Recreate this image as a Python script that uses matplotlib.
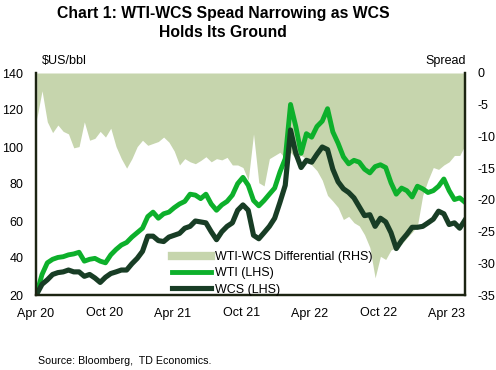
import pandas as pd
import matplotlib
matplotlib.use("Agg")
import matplotlib.pyplot as plt
from matplotlib.lines import Line2D

plt.rcParams['font.family'] = ['Liberation Sans', 'DejaVu Sans']
plt.rcParams['axes.unicode_minus'] = False

# roughly bi-weekly observations, Apr 2020 - May 2023
dates = pd.date_range('2020-04-03', '2023-05-20', periods=82)

wti = [21.0, 31.1, 37.4, 39.3, 40.3, 40.7, 41.7, 42.2, 43.1, 38.3,
       39.3, 39.8, 38.3, 37.4, 41.7, 44.6, 47.0, 48.4, 51.3, 53.7,
       56.1, 62.4, 64.8, 61.5, 63.9, 64.8, 67.2, 69.2, 70.6, 74.5,
       74.0, 72.1, 74.5, 69.2, 65.8, 68.7, 70.6, 74.0, 80.2, 83.6,
       79.3, 71.1, 68.2, 71.1, 74.5, 77.8, 86.5, 93.7, 123.0, 111.1,
       96.6, 107.2, 105.3, 111.1, 114.0, 120.7, 108.2, 102.0, 94.7, 90.9,
       92.8, 91.8, 88.0, 86.0, 89.4, 90.4, 88.9, 80.7, 74.5, 77.8,
       76.4, 73.0, 78.8, 77.4, 75.4, 76.4, 78.8, 82.7, 76.4, 71.6,
       72.5, 70.1]

wcs = [20.5, 25.8, 28.2, 31.1, 32.1, 32.5, 33.5, 32.5, 32.5, 30.1,
       31.1, 29.2, 26.8, 29.6, 31.6, 32.5, 33.5, 33.5, 36.9, 39.8,
       43.6, 51.8, 51.8, 49.4, 48.9, 51.3, 52.3, 53.3, 56.1, 57.1,
       60.0, 59.5, 59.0, 54.2, 49.9, 54.2, 57.1, 59.0, 65.8, 68.7,
       65.8, 52.3, 50.4, 53.7, 57.1, 61.5, 70.1, 79.3, 109.2, 96.6,
       88.9, 92.8, 91.8, 96.1, 100.0, 98.6, 88.0, 81.2, 77.4, 75.4,
       72.5, 67.7, 62.9, 63.4, 57.1, 61.5, 59.5, 53.7, 45.1, 49.4,
       52.8, 56.6, 56.6, 57.1, 59.0, 61.0, 65.3, 63.9, 58.1, 59.0,
       56.1, 60.5]

spread = [-7.2, -2.8, -7.7, -9.4, -8.2, -9.2, -9.6, -11.8, -11.6, -7.7,
          -10.6, -10.3, -9.2, -10.1, -8.7, -11.6, -13.5, -15.0, -13.5, -11.6,
          -10.6, -11.4, -11.1, -10.8, -10.1, -10.9, -12.3, -14.5, -13.5, -14.0,
          -14.3, -13.8, -13.2, -14.0, -13.5, -13.7, -13.3, -14.5, -14.5, -14.9,
          -16.9, -9.6, -17.3, -17.8, -13.5, -13.0, -12.5, -13.5, -12.5, -13.5,
          -13.0, -13.5, -14.5, -15.4, -16.9, -19.3, -20.2, -21.2, -23.1, -22.6,
          -23.6, -24.1, -25.5, -27.5, -32.3, -28.9, -29.4, -27.9, -27.5, -27.0,
          -26.0, -25.1, -24.1, -19.3, -16.9, -14.9, -15.2, -14.5, -14.0, -13.0,
          -13.0, -11.4]

tick_dates = pd.to_datetime(['2020-04-01', '2020-10-01', '2021-04-01', '2021-10-01',
                             '2022-04-01', '2022-10-01', '2023-04-01'])
tick_labels = ['Apr 20', 'Oct 20', 'Apr 21', 'Oct 21', 'Apr 22', 'Oct 22', 'Apr 23']

FILL = '#c6d5ad'
WTI_C = '#0db02b'
WCS_C = '#183d25'
AXC = '#1c2412'

fig = plt.figure(figsize=(4.96, 3.70), dpi=100)
ax = fig.add_axes([36/496, 1 - 295/370, (465 - 36)/496, (295 - 73)/370])
ax2 = ax.twinx()

# differential as area on the right axis, kept behind the price lines
ax2.fill_between(dates, 0, spread, color=FILL, lw=0)
ax2.set_ylim(-35, 0)
ax2.set_yticks(range(-35, 1, 5))
ax.set_zorder(ax2.get_zorder() + 1)
ax.patch.set_visible(False)

ax.plot(dates, wti, color=WTI_C, lw=3.5, solid_joinstyle='round')
ax.plot(dates, wcs, color=WCS_C, lw=3.7, solid_joinstyle='round')
ax.set_ylim(20, 140)
ax.set_yticks(range(20, 141, 20))
ax.set_xlim(pd.Timestamp('2020-04-01'), pd.Timestamp('2023-05-20'))
ax.set_xticks(tick_dates)
ax.set_xticklabels(tick_labels)

for a in (ax, ax2):
    a.spines['top'].set_visible(False)
    for s in ('left', 'right', 'bottom'):
        a.spines[s].set_color(AXC)
        a.spines[s].set_linewidth(1.6)
    a.tick_params(length=0, labelsize=9, colors='black')
ax.tick_params(axis='y', pad=9)
ax.tick_params(axis='x', pad=9)
ax2.tick_params(axis='y', pad=9)

fig.text(223/496, 1 - 23/370, 'Chart 1: WTI-WCS Spead Narrowing as WCS\nHolds Its Ground',
         ha='center', va='center', fontsize=11.3, fontweight='bold', linespacing=1.3)
fig.text(42/496, 1 - 61/370, '$US/bbl', ha='left', va='center', fontsize=9)
fig.text(466/496, 1 - 61/370, 'Spread', ha='right', va='center', fontsize=9)
fig.text(38/496, 1 - 361/370, 'Source: Bloomberg,  TD Economics.', ha='left', va='center', fontsize=7.7)

handles = [Line2D([], [], color=FILL, lw=6),
           Line2D([], [], color=WTI_C, lw=3.5),
           Line2D([], [], color=WCS_C, lw=3.7)]
labels = ['WTI-WCS Differential (RHS)', 'WTI (LHS)', 'WCS (LHS)']
ax.legend(handles, labels, loc='upper left', bbox_to_anchor=(172/496, 1 - 251/370),
          bbox_transform=fig.transFigure, frameon=False, fontsize=9,
          borderpad=0, borderaxespad=0, handlelength=3.1, handletextpad=0.35,
          labelspacing=0.35)

fig.savefig('out.png', dpi=100)
